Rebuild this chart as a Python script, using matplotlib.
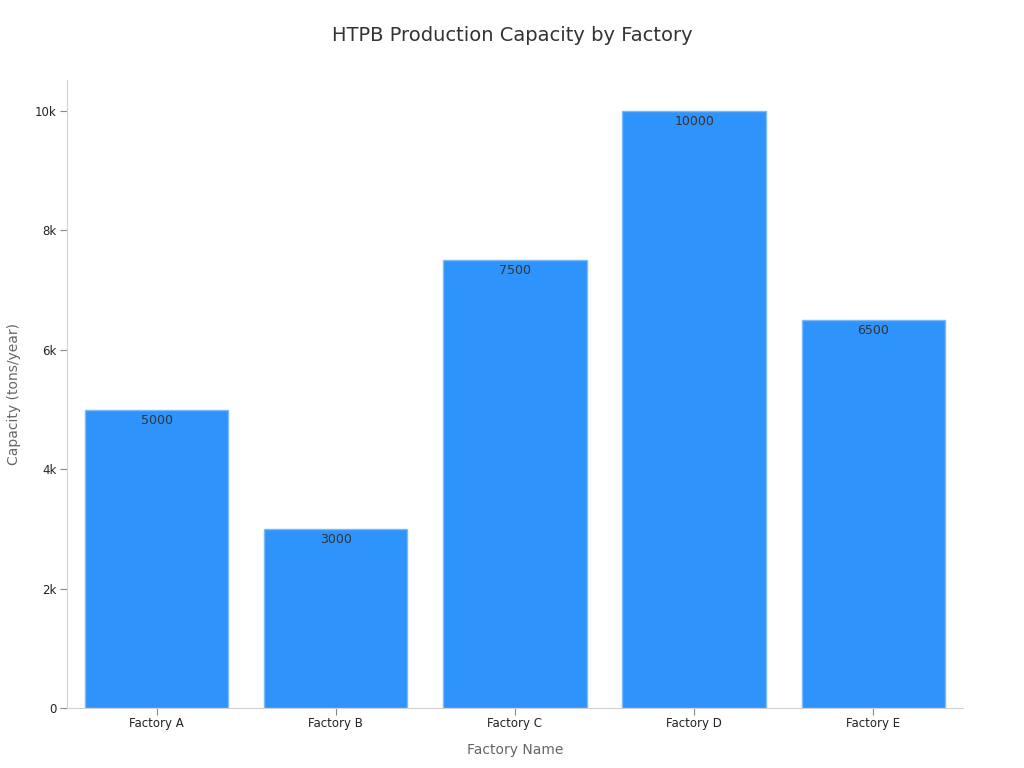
import matplotlib
matplotlib.use("Agg")
import matplotlib.pyplot as plt
from matplotlib.ticker import FuncFormatter

factories = ["Factory A", "Factory B", "Factory C", "Factory D", "Factory E"]
capacity = [5000, 3000, 7500, 10000, 6500]

fig = plt.figure(figsize=(10.24, 7.68), dpi=100)
ax = fig.add_axes([0.0654, 0.078, 0.8750, 0.818])

bars = ax.bar(range(len(factories)), capacity, width=0.8, color="#2E93FA",
              edgecolor="#7DB9F7", linewidth=1)

for b, v in zip(bars, capacity):
    ax.text(b.get_x() + b.get_width() / 2, v - 70, str(v), ha="center", va="top",
            fontsize=9, color="#333333")

ax.set_xlim(-0.5, 4.5)
ax.set_ylim(0, 10520)
ax.set_xticks(range(len(factories)))
ax.set_xticklabels(factories)
ax.set_yticks([0, 2000, 4000, 6000, 8000, 10000])
ax.yaxis.set_major_formatter(FuncFormatter(lambda v, p: "0" if v == 0 else f"{int(v/1000)}k"))

ax.tick_params(axis="both", labelsize=8.5, colors="#888888", labelcolor="#222222", length=5, pad=2.5)
ax.tick_params(axis="x", pad=1.5)
for s in ["top", "right"]:
    ax.spines[s].set_visible(False)
for s in ["left", "bottom"]:
    ax.spines[s].set_color("#d0d0d0")

ax.set_xlabel("Factory Name", fontsize=10, color="#666666", labelpad=9)
ax.set_ylabel("Capacity (tons/year)", fontsize=10, color="#666666", labelpad=10)
fig.suptitle("HTPB Production Capacity by Factory", fontsize=14, color="#333333", y=0.966)

fig.savefig("out.png", dpi=100)
